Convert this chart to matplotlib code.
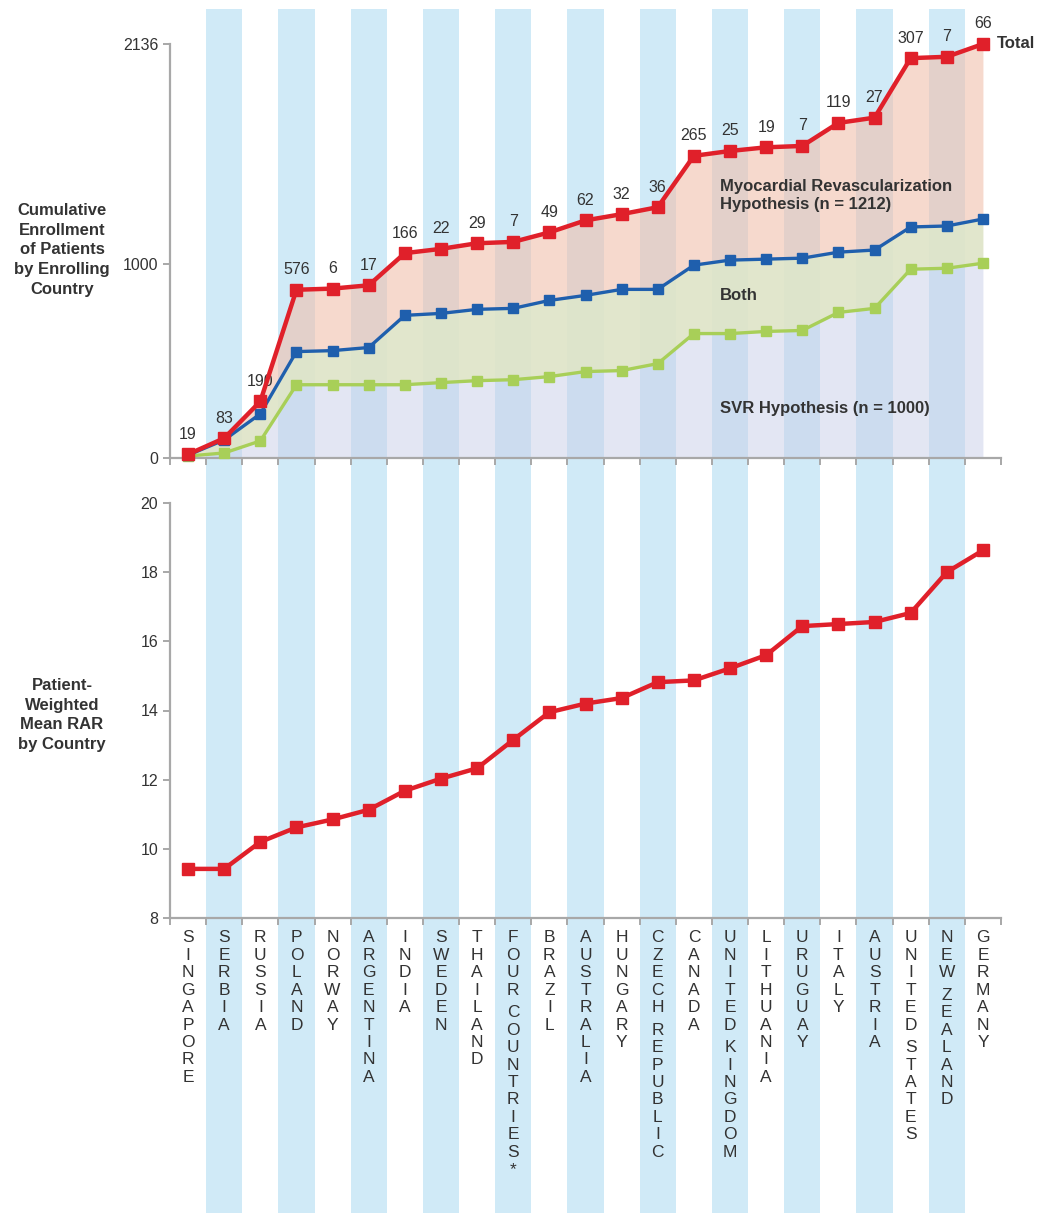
import numpy as np
import matplotlib
matplotlib.use("Agg")
import matplotlib.pyplot as plt

plt.rcParams["font.family"] = ["Liberation Sans", "DejaVu Sans"]

countries = ["SINGAPORE", "SERBIA", "RUSSIA", "POLAND", "NORWAY", "ARGENTINA", "INDIA",
             "SWEDEN", "THAILAND", "FOUR COUNTRIES*", "BRAZIL", "AUSTRALIA", "HUNGARY",
             "CZECH REPUBLIC", "CANADA", "UNITED KINGDOM", "LITHUANIA", "URUGUAY", "ITALY",
             "AUSTRIA", "UNITED STATES", "NEW ZEALAND", "GERMANY"]
enrolled = [19, 83, 190, 576, 6, 17, 166, 22, 29, 7, 49, 62, 32, 36, 265, 25, 19, 7,
            119, 27, 307, 7, 66]
both_cum = [15, 93, 228, 549, 554, 570, 736, 746, 767, 772, 813, 839, 870, 870, 995,
            1021, 1026, 1031, 1062, 1073, 1192, 1197, 1233]
svr_cum = [10, 26, 88, 378, 378, 378, 378, 389, 399, 404, 420, 446, 451, 487, 642, 642,
           653, 658, 751, 772, 974, 979, 1005]
rar = [9.42, 9.42, 10.2, 10.62, 10.85, 11.13, 11.68, 12.03, 12.33, 13.15, 13.95, 14.2,
       14.36, 14.82, 14.87, 15.22, 15.6, 16.44, 16.5, 16.56, 16.82, 18.0, 18.63]

total_cum = np.cumsum(enrolled)
x = np.arange(len(countries))

RED = "#e0202a"
BLUE = "#1f5fad"
GREEN = "#a8cf58"
STRIPE = "#d0eaf7"
GRAY = "#a8a8a8"
TXT = "#333333"

W, H = 1044, 1213
fig = plt.figure(figsize=(W / 100, H / 100), dpi=100)
left, right = 170 / W, 1001 / W


def fy(px):
    return 1 - px / H


# background stripes spanning both panels
bg = fig.add_axes([left, 0, right - left, fy(9)])
bg.set_xlim(-0.5, len(countries) - 0.5)
bg.set_ylim(0, 1)
bg.axis("off")
for i in range(1, len(countries), 2):
    bg.axvspan(i - 0.5, i + 0.5, color=STRIPE, lw=0)

ax1 = fig.add_axes([left, fy(458), right - left, fy(44) - fy(458)])
ax2 = fig.add_axes([left, fy(918), right - left, fy(503) - fy(918)])

for ax in (ax1, ax2):
    ax.set_facecolor("none")
    ax.set_xlim(-0.5, len(countries) - 0.5)
    for s in ("top", "right"):
        ax.spines[s].set_visible(False)
    for s in ("left", "bottom"):
        ax.spines[s].set_color(GRAY)
        ax.spines[s].set_linewidth(1.6)
    ax.set_xticks(np.arange(-0.5, len(countries)))
    ax.set_xticklabels([])
    ax.tick_params(axis="both", colors=GRAY, width=1.4, length=5, labelcolor=TXT,
                   labelsize=11.5)

# top panel
ax1.set_ylim(0, total_cum[-1])
ax1.set_yticks([0, 1000, total_cum[-1]])
ax1.fill_between(x, 0, svr_cum, color="#c9cfe9", alpha=0.5, lw=0)
ax1.fill_between(x, svr_cum, both_cum, color="#dfe4c8", alpha=0.92, lw=0)
ax1.fill_between(x, both_cum, total_cum, color="#f0c0ad", alpha=0.6, lw=0)
ax1.plot(x, svr_cum, color=GREEN, lw=2.4, marker="s", ms=7.5, clip_on=False, zorder=3)
ax1.plot(x, both_cum, color=BLUE, lw=2.4, marker="s", ms=7.5, clip_on=False, zorder=4)
ax1.plot(x, total_cum, color=RED, lw=3.2, marker="s", ms=9, clip_on=False, zorder=5)

for xi, yi, n in zip(x, total_cum, enrolled):
    ax1.annotate(str(n), (xi, yi), xytext=(0, 9), textcoords="offset points",
                 ha="center", va="bottom", fontsize=11.5, color=TXT)
ax1.annotate("Total", (x[-1], total_cum[-1]), xytext=(10, 0), textcoords="offset points",
             ha="left", va="center", fontsize=12, fontweight="bold", color=TXT,
             annotation_clip=False)
ax1.text(14.72, 1355, "Myocardial Revascularization\nHypothesis (n = 1212)", fontsize=12,
         fontweight="bold", color=TXT, ha="left", va="center", linespacing=1.2)
ax1.text(14.72, 836, "Both", fontsize=12, fontweight="bold", color=TXT, ha="left",
         va="center")
ax1.text(14.72, 253, "SVR Hypothesis (n = 1000)", fontsize=12, fontweight="bold",
         color=TXT, ha="left", va="center")

# bottom panel
ax2.set_ylim(8, 20)
ax2.set_yticks(np.arange(8, 21, 2))
ax2.plot(x, rar, color=RED, lw=3.2, marker="s", ms=9, clip_on=False, zorder=5)

# stacked country labels
step = 17.4 * 0.72
for xi, name in zip(x, countries):
    off = 0.0
    for ch in name:
        if ch == " ":
            off += step * 0.3
            continue
        ax2.annotate(ch, (xi, 0), xycoords=("data", "axes fraction"),
                     xytext=(0, -9 - off), textcoords="offset points", ha="center",
                     va="top", fontsize=12.5, color=TXT, annotation_clip=False)
        off += step

fig.text(62 / W, fy(250), "Cumulative\nEnrollment\nof Patients\nby Enrolling\nCountry",
         ha="center", va="center", fontsize=12, fontweight="bold", color=TXT,
         linespacing=1.4)
fig.text(62 / W, fy(715), "Patient-\nWeighted\nMean RAR\nby Country", ha="center",
         va="center", fontsize=12, fontweight="bold", color=TXT, linespacing=1.4)

fig.savefig("out.png", dpi=100, facecolor="white")
